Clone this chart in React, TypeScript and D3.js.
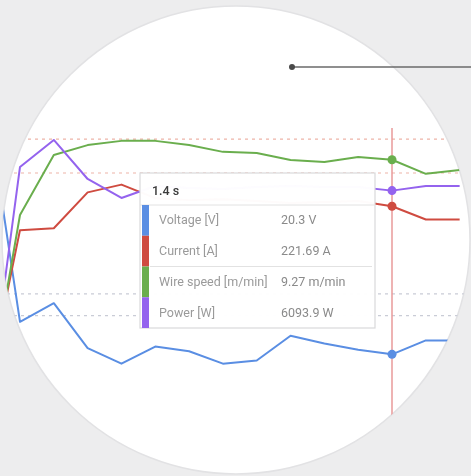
import React from 'react';
import * as d3 from 'd3';

// sampled weld data, one point every 0.1 s
const times = [0.2, 0.3, 0.4, 0.5, 0.6, 0.7, 0.8, 0.9, 1.0, 1.1, 1.2, 1.3, 1.4, 1.5, 1.6];
const voltage = [36.9, 22.4, 23.6, 20.7, 19.7, 20.8, 20.5, 19.7, 19.9, 21.5, 21.0, 20.6, 20.3, 21.2, 21.2];
const current = [27, 197, 199, 236, 244, 230, 228, 229, 227, 225, 226, 227, 221.69, 208, 208];
const wireSpeed = [0.4, 7.31, 9.44, 9.79, 9.94, 9.94, 9.79, 9.55, 9.51, 9.26, 9.19, 9.37, 9.27, 8.77, 8.91];
const power = [0, 6720, 7434, 6402, 5899, 6217, 6164, 6138, 6190, 6217, 6190, 6190, 6093.9, 6217, 6217];

const seriesNames = ['Voltage [V]', 'Current [A]', 'Wire speed [m/min]', 'Power [W]'];
const seriesUnits = ['V', 'A', 'm/min', 'W'];
const seriesColors = ['#5a8ee3', '#cf4b40', '#6aae4e', '#9463ee'];
const seriesDomains = [[16, 36], [0, 320], [0, 11], [0, 8200]];

const hoverTime = 1.4;
const wireLimits = [10, 8.8];
const voltageLimits = [24.2, 22.8];

const width = 471;
const height = 476;
const cx = 236;
const cy = 240;
const radius = 234;

export default function App() {
  const data = [voltage, current, wireSpeed, power];
  const x = d3.scaleLinear().domain([0.3, 1.4]).range([20, 392]);
  const ys = seriesDomains.map(d => d3.scaleLinear().domain(d).range([421, 111]));
  const hi = times.indexOf(hoverTime);
  const hx = x(hoverTime);

  const line = (vals, y) =>
    d3.line().x((d, i) => x(times[i])).y(d => y(d))(vals);

  // tooltip box
  const tipX = 140;
  const tipY = 173;
  const tipW = 235;
  const tipH = 155;
  const headH = 32;
  const rowH = (tipH - headH) / 4;

  return (
    <svg width={width} height={height} style={{ position: 'absolute', left: 0, top: 0, fontFamily: 'Roboto, sans-serif' }}>
      <defs>
        <clipPath id="lens">
          <circle cx={cx} cy={cy} r={radius} />
        </clipPath>
        <filter id="soft" x="-5%" y="-5%" width="110%" height="110%">
          <feGaussianBlur stdDeviation="0.7" />
        </filter>
      </defs>
      <rect width={width} height={height} fill="#ededee" />
      <circle cx={cx} cy={cy} r={radius} fill="#fff" stroke="#e2e2e4" strokeWidth={1.5} />
      <g clipPath="url(#lens)" filter="url(#soft)">
        {wireLimits.map(v => (
          <line key={'w' + v} x1={0} x2={width} y1={ys[2](v)} y2={ys[2](v)}
            stroke="#eeb4a8" strokeWidth={1.2} strokeDasharray="3,4" />
        ))}
        {voltageLimits.map(v => (
          <line key={'v' + v} x1={0} x2={width} y1={ys[0](v)} y2={ys[0](v)}
            stroke="#c9ccd6" strokeWidth={1.2} strokeDasharray="3,4" />
        ))}
        <line x1={hx} x2={hx} y1={128} y2={height} stroke="#e99a9a" strokeWidth={1.5} />
        {data.map((vals, s) => (
          <path key={s} d={line(vals, ys[s])} fill="none" stroke={seriesColors[s]}
            strokeWidth={2} strokeLinejoin="round" />
        ))}
        {data.map((vals, s) => (
          <circle key={'p' + s} cx={hx} cy={ys[s](vals[hi])} r={4.5} fill={seriesColors[s]} />
        ))}
        <g>
          <rect x={tipX} y={tipY} width={tipW} height={tipH} fill="#fff" fillOpacity={0.98}
            stroke="#d9d9db" strokeWidth={1.2} />
          <text x={tipX + 12} y={tipY + 22} fontSize={12.5} fontWeight={500} fill="#3a3a3a">
            {hoverTime + ' s'}
          </text>
          <line x1={tipX} x2={tipX + tipW} y1={tipY + headH} y2={tipY + headH} stroke="#e2e2e2" />
          <line x1={tipX + 10} x2={tipX + tipW - 3} y1={tipY + headH + rowH * 2} y2={tipY + headH + rowH * 2}
            stroke="#e2e2e2" />
          {data.map((vals, s) => {
            const ry = tipY + headH + rowH * s;
            return (
              <g key={'t' + s}>
                <rect x={tipX + 2} y={ry} width={7} height={rowH} fill={seriesColors[s]} />
                <text x={tipX + 19} y={ry + rowH / 2 + 4} fontSize={12.5} fill="#9a9a9a">
                  {seriesNames[s]}
                </text>
                <text x={tipX + 141} y={ry + rowH / 2 + 4} fontSize={12.5} fill="#8a8a8a">
                  {vals[hi] + ' ' + seriesUnits[s]}
                </text>
              </g>
            );
          })}
        </g>
      </g>
      <line x1={292} x2={width} y1={67} y2={67} stroke="#6a6a6a" strokeWidth={1.6} />
      <circle cx={292} cy={67} r={3} fill="#4a4a4a" />
    </svg>
  );
}
